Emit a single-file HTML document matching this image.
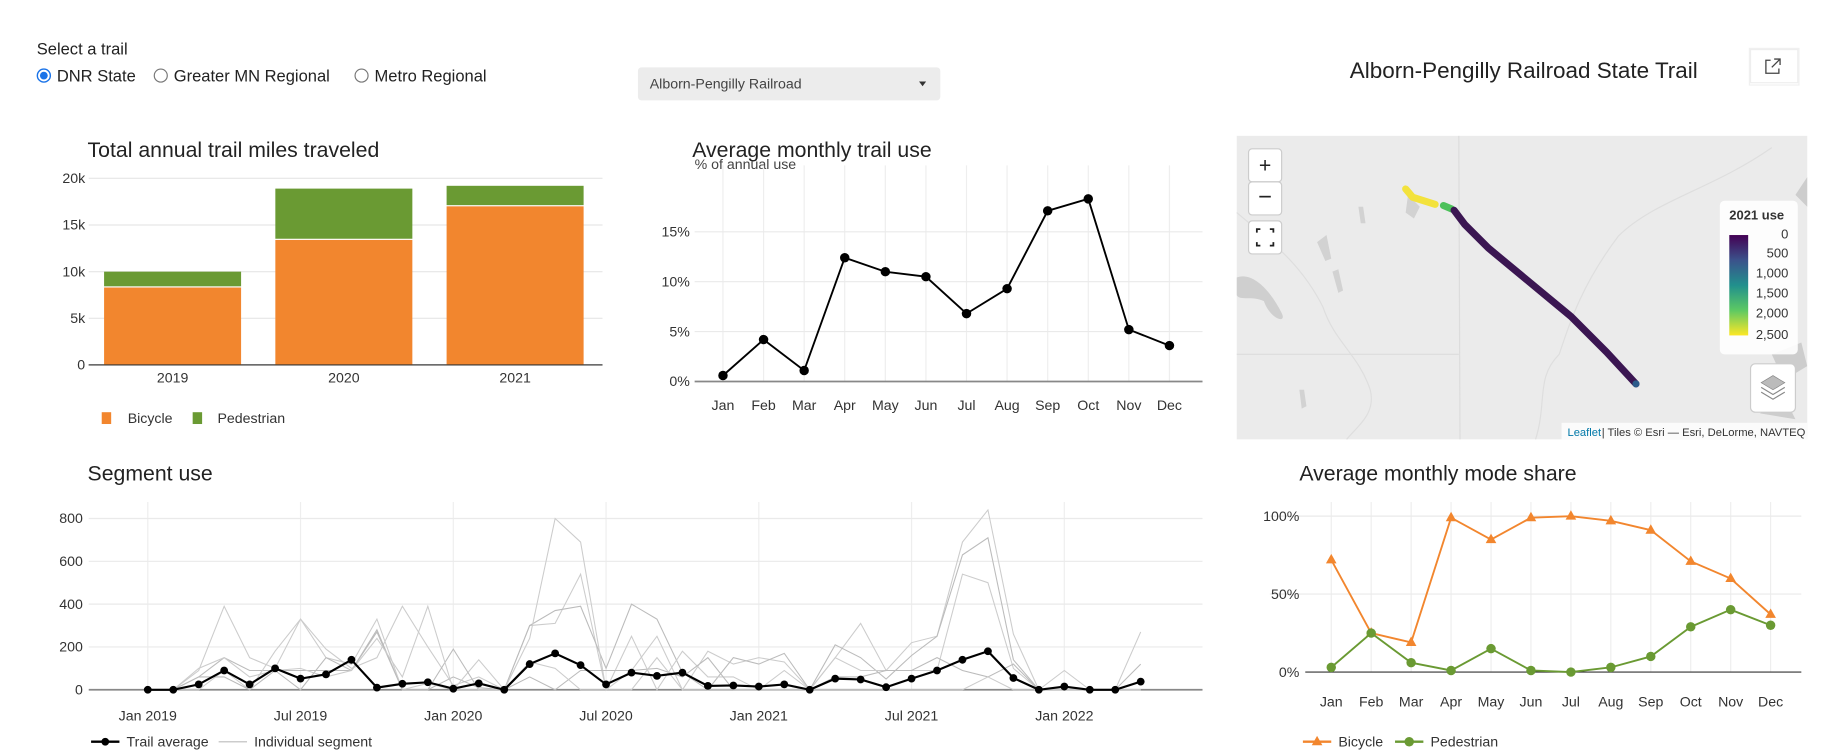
<!DOCTYPE html>
<html><head><meta charset="utf-8">
<style>
html,body{margin:0;padding:0;background:#fff;width:1831px;height:750px;overflow:hidden;}
svg{display:block;font-family:"Liberation Sans",sans-serif;}
</style></head>
<body>
<svg id="root" width="1831" height="750" viewBox="0 0 1550 635" xmlns="http://www.w3.org/2000/svg">
  <!-- controls -->
  <text x="31" y="46" font-size="14" fill="#222">Select a trail</text>
  <g>
    <circle cx="37" cy="64" r="5.5" fill="#fff" stroke="#1a73e8" stroke-width="1.2"/>
    <circle cx="37" cy="64" r="3.3" fill="#1a73e8"/>
    <text x="48" y="69" font-size="14" fill="#222">DNR State</text>
  </g>
  <g>
    <circle cx="136" cy="64" r="5.5" fill="#fff" stroke="#777" stroke-width="1"/>
    <text x="147" y="69" font-size="14" fill="#222">Greater MN Regional</text>
  </g>
  <g>
    <circle cx="306" cy="64" r="5.5" fill="#fff" stroke="#777" stroke-width="1"/>
    <text x="317" y="69" font-size="14" fill="#222">Metro Regional</text>
  </g>
  <g>
    <rect x="540" y="57" width="256" height="28" rx="3" fill="#ececec"/>
    <text x="550" y="75" font-size="12" fill="#444">Alborn-Pengilly Railroad</text>
    <path d="M778 69 l6 0 l-3 4 z" fill="#333"/>
  </g>
  <text x="1290" y="66" font-size="19" fill="#222" text-anchor="middle">Alborn-Pengilly Railroad State Trail</text>
  <g>
    <rect x="1482" y="42" width="40" height="28" fill="#fff" stroke="#eee"/>
    <rect x="1481" y="41" width="42" height="31" fill="none" stroke="#f0f0f0"/>
    <path d="M1499 51 h-4 v11 h11 v-4 M1502 50 h5 v5 M1507 50 l-7 7" fill="none" stroke="#444" stroke-width="1.1"/>
  </g>

  <!-- bar chart -->
  <text x="74" y="133" font-size="18" fill="#222">Total annual trail miles traveled</text>
  <g id="bars"></g>

  <!-- monthly use -->
  <text x="586" y="133" font-size="18" fill="#222">Average monthly trail use</text>
  <text x="588" y="143" font-size="12" fill="#444">% of annual use</text>
  <g id="monthly"></g>

  <!-- map -->
  <g>
    <rect x="1047" y="115" width="483" height="257" fill="#ebebeb"/>
    <path d="M1047 300 L1235 300 M1235 115 L1236 372" stroke="#dcdcdc" stroke-width="1" fill="none"/>
    <path d="M1300 372 C1310 340 1300 320 1320 300 C1330 270 1340 240 1370 200 C1400 170 1450 160 1500 125" stroke="#dedede" stroke-width="1" fill="none"/>
    <path d="M1047 180 C1070 200 1100 220 1120 260 C1130 290 1150 300 1160 330 C1165 350 1150 360 1140 372" stroke="#dedede" fill="none"/>
    <path d="M1047 235 C1060 230 1075 245 1085 265 C1090 275 1075 270 1070 255 C1060 250 1050 255 1047 250 Z" fill="#cfcfcf"/>
    <path d="M1115 205 l8 -6 l4 20 l-5 2 z M1128 230 l5 -2 l4 18 l-4 2 z M1150 175 l4 0 l2 14 l-4 0 z M1192 165 l10 10 l-5 10 l-7 -5 z M1100 330 l4 0 l2 14 l-4 2 z" fill="#d2d2d2"/>
    <path d="M1500 300 l25 -10 l5 20 l-20 12 z M1490 350 l20 -15 l10 20 z M1520 165 l10 -15 l0 25 z" fill="#cdcdcd"/>
    <path d="M1190 160 L1196 167 L1215 173" stroke="#f3e23c" stroke-width="6" stroke-linecap="round" fill="none"/>
    <path d="M1222 174 L1229 177" stroke="#4cc15a" stroke-width="6" stroke-linecap="round" fill="none"/>
    <path d="M1231 178 L1240 190 L1260 210 L1330 268 L1360 298 L1385 325" stroke="#3b1652" stroke-width="6" stroke-linecap="round" fill="none"/>
    <circle cx="1385" cy="325" r="3" fill="#2c5b8a"/>
  </g>
  <g>
    <rect x="1057" y="126" width="28" height="28" rx="3" fill="#fff" stroke="#ccc"/>
    <text x="1071" y="146" font-size="18" text-anchor="middle" fill="#222">+</text>
  </g>
  <g>
    <rect x="1057" y="154" width="28" height="28" rx="3" fill="#fff" stroke="#ccc"/>
    <text x="1071" y="173" font-size="20" text-anchor="middle" fill="#222">−</text>
  </g>
  <g>
    <rect x="1057" y="187" width="28" height="28" rx="3" fill="#fff" stroke="#ccc"/>
    <path d="M1064 197 v-3 h3 M1075 194 h3 v3 M1078 205 v3 h-3 M1067 208 h-3 v-3" stroke="#222" stroke-width="1.5" fill="none"/>
  </g>
  <g>
    <defs><linearGradient id="vir" x1="0" y1="0" x2="0" y2="1">
      <stop offset="0" stop-color="#440154"/><stop offset="0.25" stop-color="#3b528b"/><stop offset="0.5" stop-color="#21908d"/><stop offset="0.75" stop-color="#5dc963"/><stop offset="1" stop-color="#fde725"/></linearGradient></defs>
    <rect x="1456" y="170" width="66" height="130" rx="4" fill="#fff" opacity="0.9"/>
    <text x="1464" y="186" font-size="11" font-weight="bold" fill="#333">2021 use</text>
    <rect x="1464" y="199" width="16" height="85" fill="url(#vir)"/>
    <g font-size="11" fill="#333" text-anchor="end">
      <text x="1514" y="202">0</text><text x="1514" y="218">500</text><text x="1514" y="235">1,000</text>
      <text x="1514" y="252">1,500</text><text x="1514" y="269">2,000</text><text x="1514" y="287">2,500</text>
    </g>
  </g>
  <g>
    <rect x="1482" y="308" width="38" height="41" rx="4" fill="#fff" stroke="#ccc"/>
    <path d="M1501 318 l10 6 l-10 6 l-10 -6 z" fill="#bbb" stroke="#888" stroke-width="0.6"/>
    <path d="M1491 328 l10 6 l10 -6 M1491 332 l10 6 l10 -6" fill="none" stroke="#888"/>
  </g>
  <g>
    <rect x="1322" y="358" width="208" height="14" fill="#fff" opacity="0.8"/>
    <text x="1327" y="369" font-size="9.5" fill="#0078a8">Leaflet</text>
    <text x="1356" y="369" font-size="9.5" fill="#333">| Tiles © Esri — Esri, DeLorme, NAVTEQ</text>
  </g>

  <!-- segment use -->
  <text x="74" y="407" font-size="18" fill="#222">Segment use</text>
  <g id="segment"></g>

  <!-- mode share -->
  <text x="1100" y="407" font-size="18" fill="#222">Average monthly mode share</text>
  <g id="mode"></g>
</svg>

<script>
const NS = "http://www.w3.org/2000/svg";
// ---- data ----
const barYears = ["2019","2020","2021"];
const barBicycle = [8300, 13400, 17000];
const barPedestrian = [1700, 5500, 2200];
const barTicks = [0, 5000, 10000, 15000, 20000];
const barTickLabels = ["0","5k","10k","15k","20k"];

const months = ["Jan","Feb","Mar","Apr","May","Jun","Jul","Aug","Sep","Oct","Nov","Dec"];
const monthlyPct = [0.6, 4.2, 1.1, 12.4, 11.0, 10.5, 6.8, 9.3, 17.1, 18.3, 5.2, 3.6];
const monthlyTicks = [0, 5, 10, 15];
const monthlyTickLabels = ["0%","5%","10%","15%"];

const segAverage = [0,0,25,90,25,100,52,72,140,10,28,35, 5,30,0,120,170,115,25,80,65,80,18,20, 15,25,0,52,48,12,52,90,140,180,55,0, 15,0,0,38];
const segA = [0,0,90,390,150,100,330,190,100,150,390,200, 20,60,0,300,310,540,0,90,250,0,180,120, 150,130,0,150,310,90,220,250,690,840,260,0, 90,0,0,270];
const segB = [0,0,60,150,90,90,90,90,90,280,0,0, 60,10,0,300,370,390,100,400,330,80,0,150, 120,170,0,210,150,50,160,250,630,710,140,0, 0,0,0,120];
const segC = [0,0,0,90,0,180,330,150,120,330,0,30, 0,140,0,240,800,690,0,250,0,180,60,60, 0,90,0,150,90,90,90,90,540,500,100,0, 0,0,0,0];
const segD = [0,0,60,60,0,90,0,150,90,270,0,0, 190,0,0,60,0,90,90,90,100,60,150,0, 0,0,0,60,60,90,90,150,90,60,120,0, 0,0,0,0];
const segE = [0,0,100,150,60,90,100,60,90,240,60,390, 0,0,0,130,100,0,0,0,150,0,0,0, 0,0,0,0,0,0,0,0,0,60,0,0, 0,0,0,0];
const segTicks = [0,200,400,600,800];
const segXLabels = ["Jan 2019","Jul 2019","Jan 2020","Jul 2020","Jan 2021","Jul 2021","Jan 2022"];

const modeBicycle = [72,25,19,99,85,99,100,97,91,71,60,37];
const modePedestrian = [3,25,6,1,15,1,0,3,10,29,40,30];
const modeTicks = [0,50,100];
const modeTickLabels = ["0%","50%","100%"];

function mk(parent, tag, attrs, text){
  const e = document.createElementNS(NS, tag);
  for (const k in attrs) e.setAttribute(k, attrs[k]);
  if (text !== undefined) e.textContent = text;
  parent.appendChild(e);
  return e;
}

// ---- bar chart ----
(function(){
  const g = document.getElementById('bars');
  const y = v => 309 - v * (158/20000);
  const x = i => 146 + i * 145;
  barTicks.forEach((t,i)=>{
    const l = mk(g,'line',{x1:75,x2:510,y1:y(t),y2:y(t),stroke:i===0?'#333':'#e6e6e6','stroke-width':1});
    
    
    const tx = mk(g,'text',{x:72,y:y(t)+4,'font-size':12,'text-anchor':'end',fill:'#333'},barTickLabels[i]);
    
    
  });
  barYears.forEach((yr,i)=>{
    const b = mk(g,'rect',{x:x(i)-58,y:y(barBicycle[i]),width:116,height:y(0)-y(barBicycle[i]),fill:'#f2862e'});
    
    
    const p = mk(g,'rect',{x:x(i)-58,y:y(barBicycle[i]+barPedestrian[i]),width:116,height:y(barBicycle[i])-y(barBicycle[i]+barPedestrian[i])-1,fill:'#6a9a33'});
    
    
    const t = mk(g,'text',{x:x(i),y:324,'font-size':12,'text-anchor':'middle',fill:'#333'},yr);
    
    
  });
  mk(g,'line',{x1:75,x2:510,y1:309,y2:309,stroke:'#333'});
  const l1 = mk(g,'g',{});
  
  
  mk(l1,'rect',{x:86,y:349,width:8,height:10,fill:'#f2862e'});
  mk(l1,'text',{x:108,y:358,'font-size':12,fill:'#333'},'Bicycle');
  const l2 = mk(g,'g',{});
  
  
  mk(l2,'rect',{x:163,y:349,width:8,height:10,fill:'#6a9a33'});
  mk(l2,'text',{x:184,y:358,'font-size':12,fill:'#333'},'Pedestrian');
})();

// ---- monthly use ----
(function(){
  const g = document.getElementById('monthly');
  const x = i => 612 + i * (378/11);
  const y = v => 323 - v * 8.45;
  months.forEach((m,i)=>{
    mk(g,'line',{x1:x(i),x2:x(i),y1:140,y2:323,stroke:'#eee'});
    const t = mk(g,'text',{x:x(i),y:347,'font-size':12,'text-anchor':'middle',fill:'#333'},m);
    
    
  });
  monthlyTicks.forEach((t,i)=>{
    if (i>0) mk(g,'line',{x1:588,x2:1018,y1:y(t),y2:y(t),stroke:'#eaeaea'});
    const tx = mk(g,'text',{x:584,y:y(t)+4,'font-size':12,'text-anchor':'end',fill:'#333'},monthlyTickLabels[i]);
    
    
  });
  mk(g,'line',{x1:588,x2:1018,y1:323,y2:323,stroke:'#888','stroke-width':1.5});
  const pl = mk(g,'polyline',{points:monthlyPct.map((v,i)=>x(i)+','+y(v)).join(' '),fill:'none',stroke:'#000','stroke-width':1.6});
  
  
  monthlyPct.forEach((v,i)=>{
    const c = mk(g,'circle',{cx:x(i),cy:y(v),r:4,fill:'#000'});
    
    
  });
})();

// ---- segment use ----
(function(){
  const g = document.getElementById('segment');
  const x = i => 125 + i * (776/36);
  const y = v => 584 - v * (145/800);
  segXLabels.forEach((lab,i)=>{
    mk(g,'line',{x1:x(i*6),x2:x(i*6),y1:425,y2:584,stroke:'#eee'});
    const t = mk(g,'text',{x:x(i*6),y:610,'font-size':12,'text-anchor':'middle',fill:'#333'},lab);
    
    
  });
  segTicks.forEach(t=>{
    if (t>0) mk(g,'line',{x1:75,x2:1018,y1:y(t),y2:y(t),stroke:'#eaeaea'});
    const tx = mk(g,'text',{x:70,y:y(t)+4,'font-size':12,'text-anchor':'end',fill:'#333'},String(t));
    
    
  });
  mk(g,'line',{x1:75,x2:1018,y1:584,y2:584,stroke:'#888','stroke-width':1.5});
  [segA,segB,segC,segD,segE].forEach((s,k)=>{
    const p = mk(g,'polyline',{points:s.map((v,i)=>x(i)+','+y(v)).join(' '),fill:'none',stroke:k%2?'#bbb':'#ccc','stroke-width':0.9});
    
    
  });
  const pl = mk(g,'polyline',{points:segAverage.map((v,i)=>x(i)+','+y(v)).join(' '),fill:'none',stroke:'#000','stroke-width':1.8});
  
  
  segAverage.forEach((v,i)=>{
    const c = mk(g,'circle',{cx:x(i),cy:y(v),r:3.3,fill:'#000'});
    
    
  });
  const l1 = mk(g,'g',{});
  
  
  mk(l1,'line',{x1:77,x2:101,y1:628,y2:628,stroke:'#000','stroke-width':2});
  mk(l1,'circle',{cx:89,cy:628,r:3.3,fill:'#000'});
  mk(l1,'text',{x:107,y:632,'font-size':12,fill:'#333'},'Trail average');
  const l2 = mk(g,'g',{});
  
  
  mk(l2,'line',{x1:185,x2:209,y1:628,y2:628,stroke:'#ccc','stroke-width':1.2});
  mk(l2,'text',{x:215,y:632,'font-size':12,fill:'#333'},'Individual segment');
})();

// ---- mode share ----
(function(){
  const g = document.getElementById('mode');
  const x = i => 1127 + i * (372/11);
  const y = v => 569 - v * 1.32;
  months.forEach((m,i)=>{
    mk(g,'line',{x1:x(i),x2:x(i),y1:425,y2:569,stroke:'#eee'});
    const t = mk(g,'text',{x:x(i),y:598,'font-size':12,'text-anchor':'middle',fill:'#333'},m);
    
    
  });
  modeTicks.forEach((t,i)=>{
    if (i>0) mk(g,'line',{x1:1075,x2:1525,y1:y(t),y2:y(t),stroke:'#eaeaea'});
    const tx = mk(g,'text',{x:1100,y:y(t)+4,'font-size':12,'text-anchor':'end',fill:'#333'},modeTickLabels[i]);
    
    
  });
  mk(g,'line',{x1:1105,x2:1525,y1:569,y2:569,stroke:'#333'});
  const b = mk(g,'polyline',{points:modeBicycle.map((v,i)=>x(i)+','+y(v)).join(' '),fill:'none',stroke:'#f2862e','stroke-width':1.6});
  
  
  modeBicycle.forEach((v,i)=>{
    const t = mk(g,'path',{d:`M${x(i)} ${y(v)-5} l4.5 8 l-9 0 z`,fill:'#f2862e'});
    
    
  });
  const p = mk(g,'polyline',{points:modePedestrian.map((v,i)=>x(i)+','+y(v)).join(' '),fill:'none',stroke:'#6a9a33','stroke-width':1.6});
  
  
  modePedestrian.forEach((v,i)=>{
    const c = mk(g,'circle',{cx:x(i),cy:y(v),r:4,fill:'#6a9a33'});
    
    
  });
  const l1 = mk(g,'g',{});
  
  
  mk(l1,'line',{x1:1103,x2:1127,y1:628,y2:628,stroke:'#f2862e','stroke-width':2});
  mk(l1,'path',{d:'M1115 623 l4.5 8 l-9 0 z',fill:'#f2862e'});
  mk(l1,'text',{x:1133,y:632,'font-size':12,fill:'#333'},'Bicycle');
  const l2 = mk(g,'g',{});
  
  
  mk(l2,'line',{x1:1181,x2:1205,y1:628,y2:628,stroke:'#6a9a33','stroke-width':2});
  mk(l2,'circle',{cx:1193,cy:628,r:4,fill:'#6a9a33'});
  mk(l2,'text',{x:1211,y:632,'font-size':12,fill:'#333'},'Pedestrian');
})();
</script>
</body></html>
